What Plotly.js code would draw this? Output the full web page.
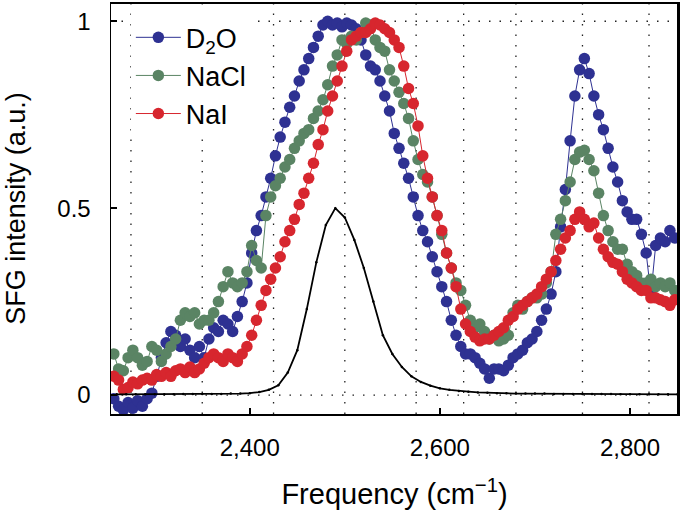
<!DOCTYPE html>
<html>
<head>
<meta charset="utf-8">
<script src="https://cdn.plot.ly/plotly-3.0.1.min.js"></script>
<style>html,body{margin:0;padding:0;background:#fff;overflow:hidden;}#chart{width:685px;height:510px;}</style>
</head>
<body>
<div id="chart"></div>
<script>
// Frequency grid of measured spectra (cm^-1)
const freq = [2257,2262,2267,2272,2277,2282,2287,2292,2297,2302,2307,2312,2317,2322,2327,2332,2337,2342,2347,2352,2357,2362,2367,2372,2377,2382,2387,2392,2397,2402,2407,2412,2417,2422,2427,2432,2437,2442,2447,2452,2457,2462,2467,2472,2477,2482,2487,2492,2497,2502,2507,2512,2517,2522,2527,2532,2537,2542,2547,2552,2557,2562,2567,2572,2577,2582,2587,2592,2597,2602,2607,2612,2617,2622,2627,2632,2637,2642,2647,2652,2657,2662,2667,2672,2677,2682,2687,2692,2697,2702,2707,2712,2717,2722,2727,2732,2737,2742,2747,2752,2757,2762,2767,2772,2777,2782,2787,2792,2797,2802,2807,2812,2817,2822,2827,2832,2837,2842,2847];

const d2o = [-0.01,-0.03,-0.04,-0.02,-0.035,-0.015,-0.03,-0.01,0.005,0.05,0.1,0.14,0.17,0.16,0.13,0.15,0.12,0.1,0.13,0.1,0.15,0.18,0.17,0.2,0.19,0.17,0.21,0.25,0.3,0.38,0.44,0.48,0.53,0.58,0.64,0.69,0.73,0.77,0.8,0.84,0.87,0.9,0.93,0.96,0.99,1.0,0.99,0.995,0.985,0.995,0.99,0.98,0.95,0.91,0.88,0.87,0.84,0.8,0.76,0.7,0.66,0.62,0.58,0.53,0.48,0.44,0.41,0.37,0.33,0.29,0.25,0.2,0.16,0.13,0.11,0.11,0.1,0.085,0.07,0.045,0.07,0.07,0.065,0.08,0.1,0.11,0.12,0.14,0.15,0.17,0.2,0.23,0.27,0.33,0.45,0.55,0.68,0.8,0.87,0.9,0.86,0.8,0.75,0.71,0.66,0.61,0.57,0.52,0.49,0.47,0.47,0.43,0.38,0.27,0.4,0.42,0.41,0.44,0.42];

const nacl = [0.11,0.07,0.065,0.1,0.12,0.1,0.08,0.09,0.13,0.12,0.09,0.11,0.13,0.15,0.2,0.22,0.21,0.22,0.19,0.2,0.2,0.22,0.25,0.29,0.33,0.3,0.29,0.3,0.33,0.4,0.36,0.34,0.48,0.53,0.56,0.58,0.61,0.63,0.66,0.68,0.7,0.71,0.74,0.76,0.79,0.83,0.88,0.91,0.95,0.94,0.96,0.95,0.97,0.995,0.99,0.95,0.93,0.92,0.87,0.84,0.81,0.78,0.74,0.68,0.63,0.59,0.57,0.53,0.48,0.43,0.38,0.34,0.3,0.28,0.24,0.2,0.18,0.19,0.17,0.15,0.16,0.145,0.15,0.16,0.22,0.24,0.23,0.25,0.26,0.26,0.27,0.3,0.33,0.43,0.47,0.52,0.57,0.63,0.65,0.655,0.63,0.6,0.54,0.48,0.44,0.41,0.39,0.39,0.35,0.33,0.32,0.3,0.3,0.31,0.29,0.3,0.29,0.3,0.28];

const nai = [0.05,0.04,0.015,0.02,0.035,0.03,0.04,0.045,0.04,0.055,0.05,0.06,0.05,0.065,0.07,0.06,0.075,0.06,0.07,0.085,0.1,0.11,0.1,0.09,0.11,0.1,0.09,0.11,0.13,0.16,0.2,0.24,0.28,0.31,0.34,0.37,0.41,0.44,0.47,0.51,0.54,0.58,0.62,0.67,0.71,0.76,0.8,0.84,0.88,0.92,0.95,0.96,0.97,0.97,0.98,0.995,0.99,0.98,0.97,0.95,0.93,0.88,0.82,0.78,0.72,0.64,0.58,0.53,0.48,0.44,0.38,0.34,0.29,0.23,0.19,0.17,0.155,0.145,0.15,0.15,0.16,0.17,0.18,0.2,0.21,0.23,0.24,0.25,0.26,0.27,0.29,0.31,0.33,0.36,0.39,0.42,0.44,0.47,0.49,0.47,0.45,0.46,0.42,0.39,0.37,0.355,0.35,0.33,0.31,0.3,0.29,0.28,0.28,0.26,0.26,0.255,0.25,0.24,0.255];

// Reference (laser / pump spectrum) curve
const refFreq = [2260,2270,2280,2290,2300,2310,2320,2330,2340,2350,2360,2370,2380,2390,2400,2410,2420,2430,2440,2450,2460,2470,2480,2490,2500,2510,2520,2530,2540,2550,2560,2570,2580,2590,2600,2610,2620,2630,2640,2650,2660,2670,2680,2690,2700,2710,2720,2730,2740,2750,2760,2770,2780,2790,2800,2810,2820,2830,2840,2850];
const refVal = [0.002,0.002,0.002,0.002,0.002,0.002,0.002,0.003,0.003,0.003,0.003,0.003,0.004,0.004,0.005,0.008,0.014,0.026,0.06,0.12,0.23,0.355,0.455,0.5,0.475,0.415,0.34,0.25,0.16,0.11,0.075,0.05,0.035,0.025,0.018,0.014,0.011,0.009,0.007,0.006,0.005,0.005,0.004,0.004,0.004,0.004,0.003,0.003,0.003,0.003,0.003,0.003,0.003,0.002,0.002,0.002,0.002,0.002,0.002,0.002];

// Dotted marker lines
const vLines = [2275,2350,2425,2500,2575,2625,2680,2750,2820];
const hLines = [0,1];

const xTickVals = [2400,2600,2800];
const xTickText = ['2,400','2,600','2,800'];
const yTickVals = [0,0.5,1];
const yTickText = ['0','0.5','1'];

const seriesNames = ['D<sub>2</sub>O','NaCl','NaI'];
const seriesColors = ['#2e3192','#5a8464','#d7262e'];
const seriesData = [d2o, nacl, nai];

const FONT = 'Liberation Sans, Arial, Helvetica, sans-serif';

const traces = seriesData.map((ys, i) => ({
  x: freq, y: ys, type: 'scatter', mode: 'lines+markers', name: seriesNames[i],
  line: {color: seriesColors[i], width: 1},
  marker: {color: seriesColors[i], size: 11.5}
}));
traces.push({
  x: refFreq, y: refVal, type: 'scatter', mode: 'lines+markers', showlegend: false,
  line: {color: '#000', width: 1.8}, marker: {color: '#000', size: 2.5}
});

const shapes = [];
vLines.forEach(v => shapes.push({type:'line', xref:'x', yref:'paper', x0:v, x1:v, y0:0, y1:1, layer:'below',
  line:{color:'#222', width:1.3, dash:'1.5px,9px'}}));
hLines.forEach(h => shapes.push({type:'line', xref:'paper', yref:'y', x0:0, x1:1, y0:h, y1:h, layer:'below',
  line:{color:'#222', width:1.3, dash:'1.5px,9px'}}));
// axes frame: top and right edges
shapes.push({type:'line', xref:'paper', yref:'paper', x0:0, x1:1, y0:1, y1:1, layer:'above',
  line:{color:'#000', width:2}});
shapes.push({type:'line', xref:'paper', yref:'paper', x0:1, x1:1, y0:0, y1:1, layer:'above',
  line:{color:'#000', width:2}});

const layout = {
  width: 685, height: 510,
  margin: {l: 111, r: 7, t: 3, b: 96},
  paper_bgcolor: '#fff', plot_bgcolor: '#fff',
  font: {family: FONT, size: 24, color: '#000'},
  showlegend: true,
  legend: {x: 0.035, y: 0.975, xanchor: 'left', yanchor: 'top', bgcolor: '#fff', borderwidth: 0,
    font: {family: FONT, size: 27, color: '#000'}, tracegroupgap: 0, itemwidth: 45},
  xaxis: {range: [2254, 2850.5], tickvals: xTickVals, ticktext: xTickText, ticks: 'inside', ticklen: 6,
    tickwidth: 1.5, tickcolor: '#000', showline: true, linecolor: '#000', linewidth: 1.5, mirror: true,
    showgrid: false, zeroline: false, ticklabelstandoff: 12, automargin: false,
    tickfont: {family: FONT, size: 24},
    title: {text: 'Frequency (cm<sup>−1</sup>)', font: {family: FONT, size: 29}, standoff: 25}},
  yaxis: {range: [-0.0507, 1.0488], tickvals: yTickVals, ticktext: yTickText, ticks: 'inside', ticklen: 6,
    tickwidth: 1.5, tickcolor: '#000', showline: true, linecolor: '#000', linewidth: 1.5, mirror: true,
    showgrid: false, zeroline: false, ticklabelstandoff: 14, automargin: false,
    tickfont: {family: FONT, size: 24},
    title: {text: 'SFG intensity (a.u.)', font: {family: FONT, size: 27}, standoff: 24}},
  shapes: shapes
};

Plotly.newPlot('chart', traces, layout, {displayModeBar: false, staticPlot: true});
</script>
</body>
</html>
